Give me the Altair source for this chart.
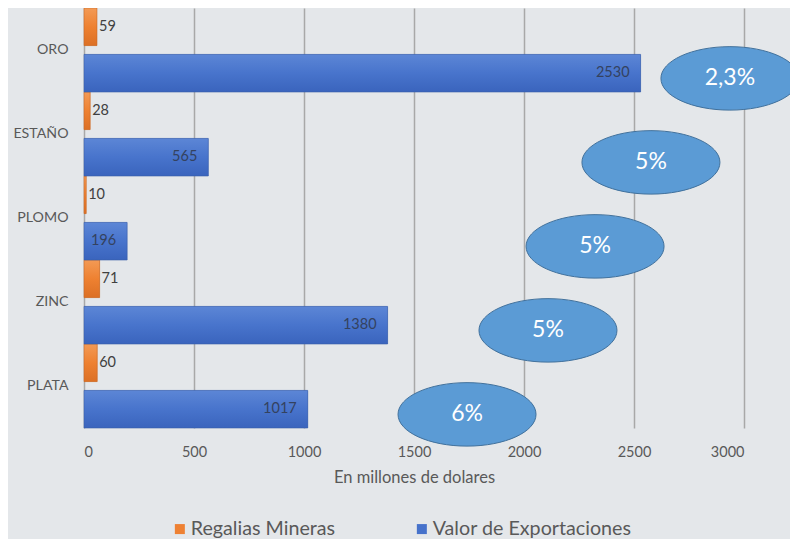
import altair as alt
import pandas as pd

categorias = ["ORO", "ESTAÑO", "PLOMO", "ZINC", "PLATA"]
series = ["Regalias Mineras", "Valor de Exportaciones"]
regalias = [59, 28, 10, 71, 60]
exportaciones = [2530, 565, 196, 1380, 1017]
porcentajes = ["2,3%", "5%", "5%", "5%", "6%"]
# anchor of each percentage bubble, in millions of dollars
ancla_porcentaje = [2936, 2577, 2323, 2109, 1741]
ticks_x = [0, 500, 1000, 1500, 2000, 2500, 3000]

rows = []
for c, r, e in zip(categorias, regalias, exportaciones):
    rows.append({"categoria": c, "serie": series[0], "valor": r})
    rows.append({"categoria": c, "serie": series[1], "valor": e})
df = pd.DataFrame(rows)

df_pct = pd.DataFrame({
    "categoria": categorias,
    "serie": [series[1]] * len(categorias),
    "pos": ancla_porcentaje,
    "pct": porcentajes,
})

FONT = "Lato"
GRAY = "#595959"

y_enc = alt.Y("categoria:N", sort=categorias,
              scale=alt.Scale(paddingInner=0, paddingOuter=0),
              axis=alt.Axis(title=None, domain=False, ticks=False, labelPadding=16,
                            labelFontSize=14.2, labelColor=GRAY, labelFont=FONT, grid=False))
yoff_enc = alt.YOffset("serie:N", sort=series,
                       scale=alt.Scale(paddingInner=0.19, paddingOuter=0))
x_enc = alt.X("valor:Q",
              scale=alt.Scale(domain=[0, 3000], nice=False),
              axis=alt.Axis(values=ticks_x, format="d", title="En millones de dolares", grid=True,
                            gridColor="#a8a8a8", gridWidth=1.5, domain=False, ticks=False,
                            labelPadding=17, labelFontSize=14.5, labelColor=GRAY, labelFont=FONT,
                            titleFontSize=16.5, titleFontWeight="normal", titleColor=GRAY,
                            titleFont=FONT, titlePadding=11))

base = alt.Chart(df).encode(y=y_enc, yOffset=yoff_enc, x=x_enc)

bars = base.mark_bar().encode(
    color=alt.Color("serie:N", sort=series,
                    scale=alt.Scale(domain=series, range=["#ee8133", "#4672cb"]),
                    legend=alt.Legend(orient="none", legendX=86, legendY=511,
                                      direction="horizontal", title=None,
                                      symbolType="square", symbolSize=100,
                                      symbolStrokeWidth=0, symbolOpacity=1,
                                      labelFontSize=19.7, labelColor=GRAY, labelFont=FONT,
                                      labelLimit=0, columnPadding=76, labelOffset=1))
)

grad_orange = alt.LinearGradient(gradient="linear", x1=0, x2=0, y1=0, y2=1, stops=[
    alt.GradientStop(color="#f39a55", offset=0),
    alt.GradientStop(color="#ee8131", offset=0.5),
    alt.GradientStop(color="#dc7025", offset=1)])
grad_blue = alt.LinearGradient(gradient="linear", x1=0, x2=0, y1=0, y2=1, stops=[
    alt.GradientStop(color="#5c86d6", offset=0),
    alt.GradientStop(color="#4874cc", offset=0.5),
    alt.GradientStop(color="#3a64bd", offset=1)])

bars_o = base.mark_bar(color=grad_orange, stroke="#c86a28", strokeWidth=0.6).transform_filter(
    alt.datum.serie == series[0])
bars_b = base.mark_bar(color=grad_blue, stroke="#3a5fa8", strokeWidth=0.6).transform_filter(
    alt.datum.serie == series[1])

lab_o = base.mark_text(align="left", dx=2, fontSize=14.5, color="#404040", font=FONT).encode(
    text="valor:Q").transform_filter(alt.datum.serie == series[0])
lab_b = base.mark_text(align="right", dx=-11, fontSize=14.5, color="#34425f", font=FONT).encode(
    text="valor:Q").transform_filter(alt.datum.serie == series[1])

# ellipse outline (unit path, shifted slightly below the blue bar's centre)
ellipse_path = ("M1,0.075 C1,0.329 0.5523,0.535 0,0.535 C-0.5523,0.535 -1,0.329 -1,0.075 "
                "C-1,-0.179 -0.5523,-0.385 0,-0.385 C0.5523,-0.385 1,-0.179 1,0.075 Z")

pbase = alt.Chart(df_pct).encode(
    y=alt.Y("categoria:N", sort=categorias),
    yOffset=alt.YOffset("serie:N", sort=series),
    x=alt.X("pos:Q"),
)
bubbles = pbase.mark_point(shape=ellipse_path, filled=True, fill="#5b9bd5", fillOpacity=1,
                           stroke="#41719c", strokeWidth=1, opacity=1, size=138 * 138)
bubble_txt = pbase.mark_text(color="white", fontSize=23, font=FONT, dy=5).encode(text="pct:N")

chart = alt.layer(bars, bars_o, bars_b, lab_o, lab_b, bubbles, bubble_txt).properties(
    width=660, height=420,
    autosize=alt.AutoSizeParams(type="none"),
    padding={"left": 76, "top": 0, "right": 46, "bottom": 111},
    background="#e4e7ea",
).configure_view(stroke=None)

chart.save("out.html", embed_options={"renderer": "svg", "actions": False})
